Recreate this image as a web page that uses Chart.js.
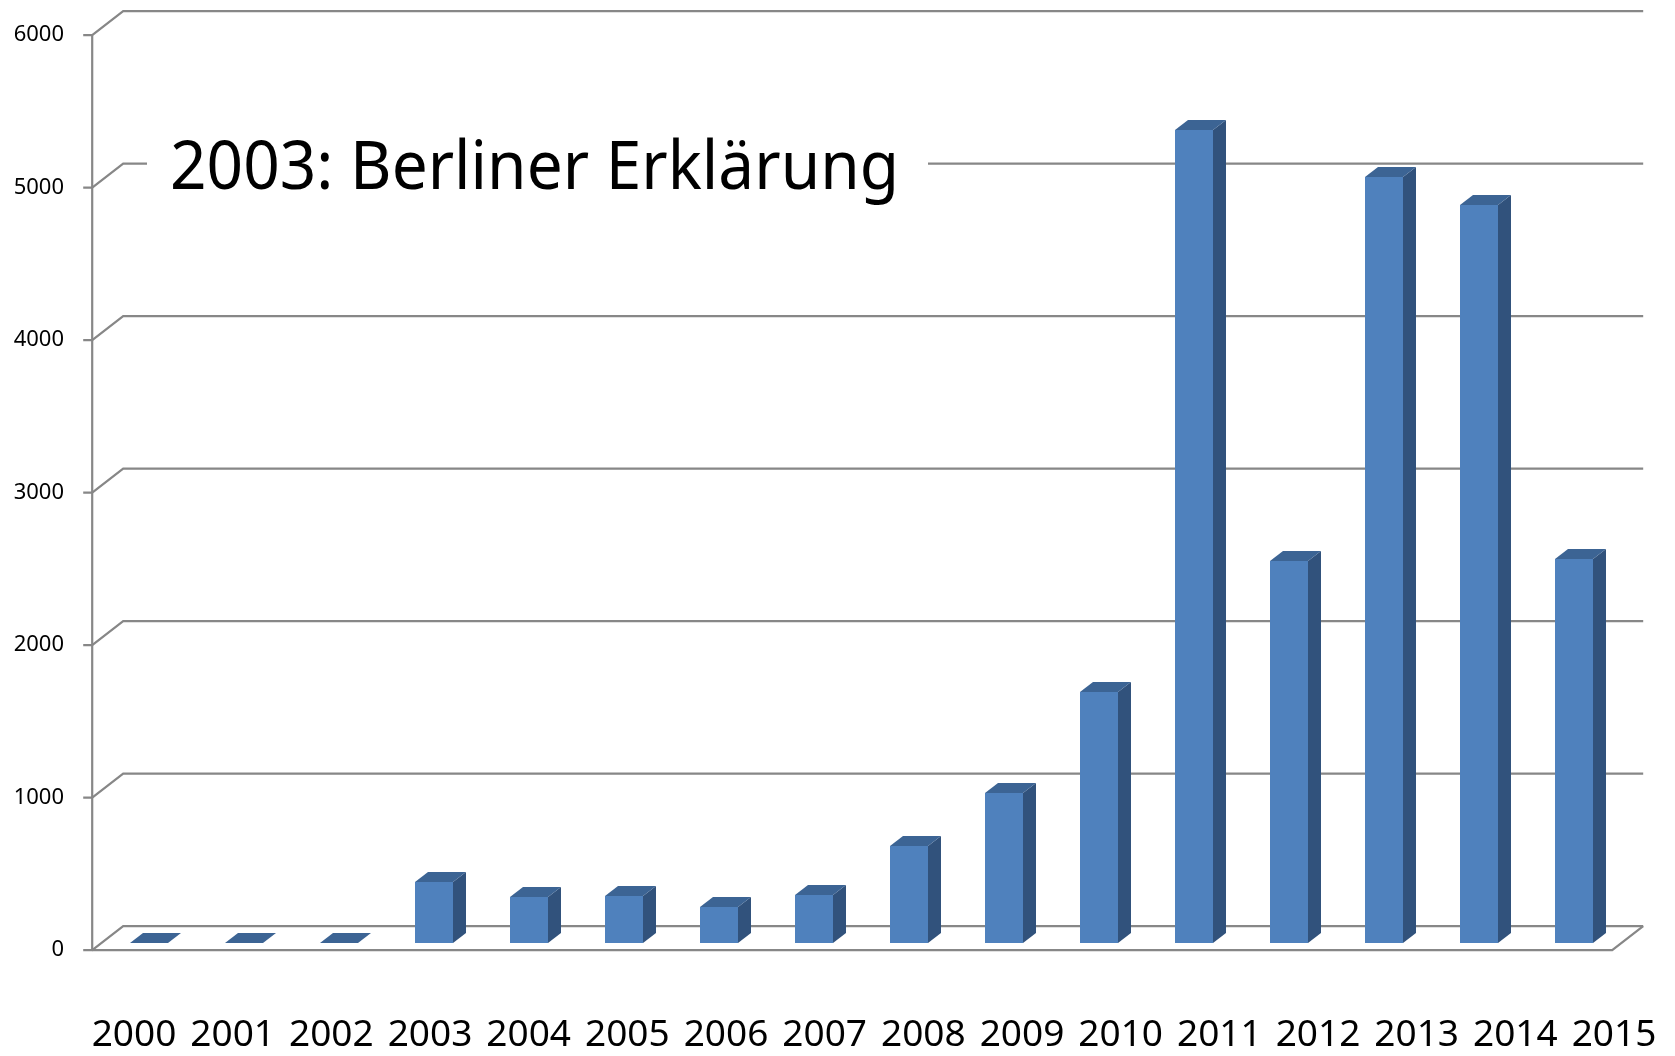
<!DOCTYPE html>
<html><head><meta charset="utf-8">
<script src="https://cdn.jsdelivr.net/npm/chart.js@4.4.1/dist/chart.umd.min.js"></script>
<style>html,body{margin:0;padding:0;background:#fff}#wrap{width:1675px;height:1056px;position:relative}</style>
</head><body><div id="wrap"><canvas id="c"></canvas></div>
<script>
const years = ['2000','2001','2002','2003','2004','2005','2006','2007','2008','2009','2010','2011','2012','2013','2014','2015'];
const values = [0, 0, 0, 400, 302, 308, 236, 315, 636, 984, 1646, 5331, 2505, 5023, 4839, 2518];
const yTicks = [0, 1000, 2000, 3000, 4000, 5000, 6000];
const titleText = '2003: Berliner Erklärung';

const FONT = '"Noto Sans", "Open Sans", sans-serif';
const GRID = '#878787';
const FRONT = '#4F81BD', SIDE = '#31527C', TOP = '#3C6494';
const DX = 13, DY = 10;            // bar depth
const WALL_DX = 31, WALL_DY = 24;  // wall depth
const BAR_PLANE = 0.3;             // bar front plane position inside depth

function zeroPad(s) { s.paddingTop = 0; s.paddingBottom = 0; s.paddingLeft = 0; s.paddingRight = 0; }

const wallPlugin = {
  id: 'wall',
  beforeDatasetsDraw(chart) {
    const ctx = chart.ctx, ys = chart.scales.y, a = chart.chartArea;
    const fdx = -WALL_DX * BAR_PLANE, fdy = WALL_DY * BAR_PLANE;
    const bdx = WALL_DX * (1 - BAR_PLANE), bdy = -WALL_DY * (1 - BAR_PLANE);
    const fx = a.left + fdx, bx = a.left + bdx, rx = a.right + bdx;
    ctx.save();
    ctx.strokeStyle = GRID; ctx.lineWidth = 2.2; ctx.lineCap = 'butt';
    yTicks.forEach(v => {
      const yb = ys.getPixelForValue(v);
      ctx.beginPath();
      ctx.moveTo(fx - 9, yb + fdy);
      ctx.lineTo(fx, yb + fdy);
      ctx.lineTo(bx, yb + bdy);
      ctx.lineTo(rx, yb + bdy);
      ctx.stroke();
    });
    ctx.beginPath();
    ctx.moveTo(fx, ys.getPixelForValue(0) + fdy);
    ctx.lineTo(fx, ys.getPixelForValue(6000) + fdy);
    ctx.stroke();
    const y0 = ys.getPixelForValue(0);
    ctx.beginPath();
    ctx.moveTo(fx, y0 + fdy);
    ctx.lineTo(a.right + fdx, y0 + fdy);
    ctx.lineTo(rx, y0 + bdy);
    ctx.stroke();
    ctx.fillStyle = '#fff';
    ctx.fillRect(147, 115, 781, 110);
    ctx.fillStyle = '#000';
    ctx.font = '67px ' + FONT;
    ctx.textBaseline = 'alphabetic';
    ctx.fillText(titleText, 170, 189, 729);
    ctx.restore();
  },
  afterDatasetsDraw(chart) {
    const ctx = chart.ctx;
    const meta = chart.getDatasetMeta(0);
    ctx.save();
    meta.data.forEach(bar => {
      const w = bar.width, l = bar.x - w / 2, r = bar.x + w / 2, t = bar.y, b = bar.base;
      ctx.fillStyle = SIDE;
      ctx.beginPath();
      ctx.moveTo(r, t); ctx.lineTo(r + DX, t - DY); ctx.lineTo(r + DX, b - DY); ctx.lineTo(r, b);
      ctx.closePath(); ctx.fill();
      ctx.fillStyle = TOP;
      ctx.beginPath();
      ctx.moveTo(l, t); ctx.lineTo(l + DX, t - DY); ctx.lineTo(r + DX, t - DY); ctx.lineTo(r, t);
      ctx.closePath(); ctx.fill();
    });
    ctx.restore();
  }
};

new Chart(document.getElementById('c'), {
  type: 'bar',
  data: {
    labels: years,
    datasets: [{
      data: values,
      backgroundColor: FRONT,
      borderWidth: 0,
      barPercentage: 0.8,
      categoryPercentage: 0.5,
      xAxisID: 'x', yAxisID: 'y'
    }]
  },
  options: {
    responsive: true, maintainAspectRatio: false, animation: false,
    layout: { padding: { left: 0, right: 53.5, top: 28, bottom: 0 } },
    plugins: { legend: { display: false }, tooltip: { enabled: false }, title: { display: false } },
    scales: {
      x: { type: 'category', display: false, offset: true },
      xl: {
        type: 'linear', position: 'bottom', min: -0.329, max: 15.076, offset: false,
        afterBuildTicks: s => { s.ticks = years.map((_, i) => ({ value: i })); },
        afterFit: s => { s.height = 113; zeroPad(s); },
        grid: { display: false, drawTicks: false, offset: false }, border: { display: false },
        ticks: { autoSkip: false, maxRotation: 0, padding: 70, color: '#000',
          font: { family: FONT, size: 37 }, callback: v => years[v] }
      },
      y: {
        type: 'linear', position: 'left', min: 0, max: 6000,
        afterBuildTicks: s => { s.ticks = yTicks.map(v => ({ value: v })); },
        afterFit: s => { s.width = 101.5; zeroPad(s); },
        grid: { display: false, drawTicks: false }, border: { display: false },
        ticks: { padding: 37.5, labelOffset: 7, color: '#000', font: { family: FONT, size: 22 },
          callback: v => String(v) }
      }
    }
  },
  plugins: [wallPlugin]
});
</script>
</body></html>
